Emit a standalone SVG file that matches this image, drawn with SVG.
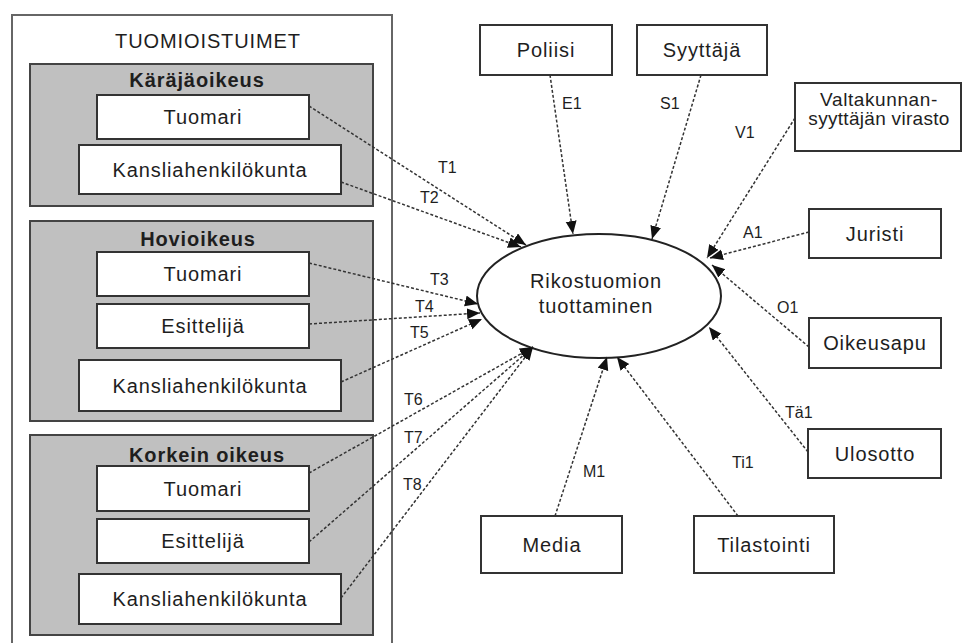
<svg xmlns="http://www.w3.org/2000/svg" width="963" height="643" viewBox="0 0 963 643">
  <style>
    .box { fill: #ffffff; stroke: #333333; stroke-width: 2; }
    .court { fill: #c0c0c0; stroke: #444444; stroke-width: 2; }
    .outer { fill: #ffffff; stroke: #666666; stroke-width: 2; }
    .txt { font-family: "Liberation Sans", Arial, sans-serif; font-size: 20px; letter-spacing: 0.9px; fill: #1e1e1e; text-anchor: middle; }
    .title { font-family: "Liberation Sans", Arial, sans-serif; font-size: 20px; font-weight: bold; letter-spacing: 0.9px; fill: #1e1e1e; text-anchor: middle; }
    .lbl { font-family: "Liberation Sans", Arial, sans-serif; font-size: 16px; fill: #1e1e1e; }
    .link { fill: none; stroke: #333333; stroke-width: 1.5; stroke-dasharray: 3 2; marker-end: url(#arrow); }
  </style>
  <defs>
    <marker id="arrow" markerUnits="userSpaceOnUse" markerWidth="14" markerHeight="12" refX="13" refY="5.5" orient="auto">
      <path d="M0,0 L13,5.5 L0,11 Z" fill="#111111" stroke="none"/>
    </marker>
  </defs>

  <rect width="963" height="643" fill="#ffffff"/>

  <!-- Courts -->
  <g id="tuomioistuimet">
    <rect class="outer" x="12" y="15" width="380" height="640"/>
    <text class="txt" x="208" y="48">TUOMIOISTUIMET</text>
  </g>

  <g id="karajaoikeus">
    <rect class="court" x="30" y="64" width="343" height="142"/>
    <text class="title" x="197" y="87">Käräjäoikeus</text>
    <g id="karajaoikeus-tuomari">
      <rect class="box" x="97" y="95" width="212" height="44"/>
      <text class="txt" x="203" y="124">Tuomari</text>
    </g>
    <g id="karajaoikeus-kanslia">
      <rect class="box" x="79" y="145" width="262" height="49"/>
      <text class="txt" x="210" y="177">Kansliahenkilökunta</text>
    </g>
  </g>

  <g id="hovioikeus">
    <rect class="court" x="30" y="221" width="343" height="200"/>
    <text class="title" x="198" y="246">Hovioikeus</text>
    <g id="hovioikeus-tuomari">
      <rect class="box" x="97" y="252" width="212" height="44"/>
      <text class="txt" x="203" y="281">Tuomari</text>
    </g>
    <g id="hovioikeus-esittelija">
      <rect class="box" x="97" y="304" width="212" height="44"/>
      <text class="txt" x="203" y="333">Esittelijä</text>
    </g>
    <g id="hovioikeus-kanslia">
      <rect class="box" x="79" y="360" width="262" height="51"/>
      <text class="txt" x="210" y="393">Kansliahenkilökunta</text>
    </g>
  </g>

  <g id="korkein-oikeus">
    <rect class="court" x="30" y="435" width="343" height="200"/>
    <text class="title" x="207" y="462">Korkein oikeus</text>
    <g id="korkein-oikeus-tuomari">
      <rect class="box" x="97" y="466" width="212" height="45"/>
      <text class="txt" x="203" y="496">Tuomari</text>
    </g>
    <g id="korkein-oikeus-esittelija">
      <rect class="box" x="97" y="519" width="212" height="44"/>
      <text class="txt" x="203" y="548">Esittelijä</text>
    </g>
    <g id="korkein-oikeus-kanslia">
      <rect class="box" x="79" y="574" width="262" height="50"/>
      <text class="txt" x="210" y="606">Kansliahenkilökunta</text>
    </g>
  </g>

  <!-- Central process -->
  <g id="rikostuomio">
    <ellipse cx="599" cy="296" rx="122" ry="62" fill="#ffffff" stroke="#222222" stroke-width="2"/>
    <text class="txt" x="596" y="288">Rikostuomion</text>
    <text class="txt" x="596" y="313">tuottaminen</text>
  </g>

  <!-- Other actors -->
  <g id="poliisi">
    <rect class="box" x="480" y="25" width="132" height="50"/>
    <text class="txt" x="546" y="57">Poliisi</text>
  </g>
  <g id="syyttaja">
    <rect class="box" x="637" y="25" width="130" height="50"/>
    <text class="txt" x="702" y="57">Syyttäjä</text>
  </g>
  <g id="valtakunnansyyttaja">
    <rect class="box" x="795" y="83" width="166" height="68"/>
    <text class="txt" x="879" y="106" style="font-size:19px;letter-spacing:0.6px">Valtakunnan-</text>
    <text class="txt" x="879" y="125" style="font-size:19px;letter-spacing:0.3px">syyttäjän virasto</text>
  </g>
  <g id="juristi">
    <rect class="box" x="809" y="209" width="132" height="49"/>
    <text class="txt" x="875" y="241">Juristi</text>
  </g>
  <g id="oikeusapu">
    <rect class="box" x="809" y="318" width="132" height="50"/>
    <text class="txt" x="875" y="350">Oikeusapu</text>
  </g>
  <g id="ulosotto">
    <rect class="box" x="808" y="429" width="133" height="49"/>
    <text class="txt" x="875" y="461">Ulosotto</text>
  </g>
  <g id="media">
    <rect class="box" x="481" y="516" width="141" height="57"/>
    <text class="txt" x="552" y="552">Media</text>
  </g>
  <g id="tilastointi">
    <rect class="box" x="694" y="516" width="140" height="57"/>
    <text class="txt" x="764" y="552">Tilastointi</text>
  </g>

  <!-- Connectors -->
  <g id="connectors">
    <line class="link" x1="309" y1="106" x2="526" y2="245"/>
    <line class="link" x1="341" y1="182" x2="521" y2="247"/>
    <line class="link" x1="309" y1="263" x2="478" y2="304"/>
    <line class="link" x1="309" y1="324" x2="480" y2="313"/>
    <line class="link" x1="341" y1="382" x2="482" y2="319"/>
    <line class="link" x1="309" y1="473" x2="533" y2="347"/>
    <line class="link" x1="309" y1="542" x2="533" y2="347"/>
    <line class="link" x1="341" y1="598" x2="533" y2="347"/>
    <line class="link" x1="550" y1="75" x2="573" y2="234"/>
    <line class="link" x1="701" y1="75" x2="652" y2="239"/>
    <line class="link" x1="795" y1="118" x2="707" y2="258"/>
    <line class="link" x1="809" y1="232" x2="710" y2="258"/>
    <line class="link" x1="809" y1="347" x2="712" y2="265"/>
    <line class="link" x1="808" y1="452" x2="709" y2="327"/>
    <line class="link" x1="738" y1="516" x2="617" y2="357"/>
    <line class="link" x1="555" y1="516" x2="607" y2="357"/>

    <text class="lbl" x="438" y="173">T1</text>
    <text class="lbl" x="420" y="203">T2</text>
    <text class="lbl" x="430" y="285">T3</text>
    <text class="lbl" x="415" y="312">T4</text>
    <text class="lbl" x="410" y="338">T5</text>
    <text class="lbl" x="404" y="405">T6</text>
    <text class="lbl" x="404" y="443">T7</text>
    <text class="lbl" x="403" y="490">T8</text>
    <text class="lbl" x="562" y="109">E1</text>
    <text class="lbl" x="660" y="109">S1</text>
    <text class="lbl" x="735" y="138">V1</text>
    <text class="lbl" x="743" y="238">A1</text>
    <text class="lbl" x="777" y="313">O1</text>
    <text class="lbl" x="785" y="418">Tä1</text>
    <text class="lbl" x="732" y="468">Ti1</text>
    <text class="lbl" x="583" y="477">M1</text>
  </g>
</svg>
